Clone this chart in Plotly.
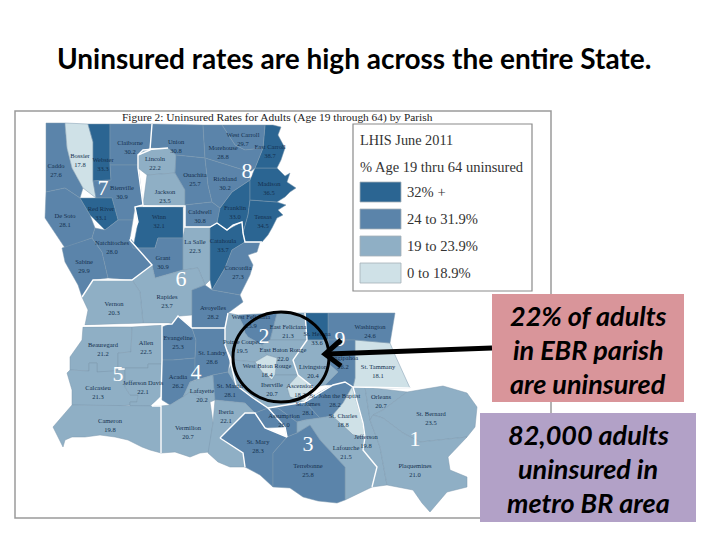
import plotly.graph_objects as go

# parish name, uninsured %
parish_names = [
    'Caddo', 'Bossier', 'Webster', 'Claiborne', 'Bienville', 'De Soto', 'Red River', 'Sabine',
    'Natchitoches', 'Winn', 'Grant', 'Lincoln', 'Jackson', 'Union', 'Ouachita', 'Caldwell',
    'La Salle', 'Catahoula', 'Concordia', 'Franklin', 'Tensas', 'Madison', 'East Carroll',
    'West Carroll', 'Morehouse', 'Richland', 'Rapides', 'Avoyelles', 'Vernon', 'Beauregard',
    'Allen', 'Calcasieu', 'Jefferson Davis', 'Cameron', 'Evangeline', 'Acadia', 'St. Landry',
    'Lafayette', 'Vermilion', 'St. Martin', 'Iberia', 'St. Mary', 'Assumption', 'St. James',
    'St. John the Baptist', 'St. Charles', 'Lafourche', 'Terrebonne', 'Jefferson', 'Orleans',
    'St. Bernard', 'Plaquemines', 'St. Tammany', 'Washington', 'Tangipahoa', 'St. Helena',
    'East Feliciana', 'West Feliciana', 'Pointe Coupee', 'East Baton Rouge', 'West Baton Rouge',
    'Iberville', 'Ascension', 'Livingston',
]
parish_rates = [
    27.6, 17.8, 33.3, 30.2, 30.9, 28.1, 33.1, 29.9,
    28.0, 32.1, 30.9, 22.2, 23.5, 30.8, 25.7, 30.8,
    22.3, 33.7, 27.3, 33.0, 34.5, 36.5, 38.7,
    29.7, 28.8, 30.2, 23.7, 28.2, 20.3, 21.2,
    22.5, 21.3, 22.1, 19.8, 25.3, 26.2, 28.6,
    20.2, 20.7, 28.1, 22.1, 28.3, 26.0, 28.1,
    28.2, 18.8, 21.5, 25.8, 19.8, 20.7,
    23.5, 21.0, 18.1, 24.6, 26.2, 33.6,
    21.3, 25.9, 19.5, 22.0, 18.4,
    20.7, 18.2, 20.4,
]
label_x = [
    56, 80, 103, 130, 122, 65, 101, 84, 112, 159, 163, 155, 165, 176, 195, 200,
    195, 223, 238, 235, 263, 269, 270, 243, 223, 225, 167, 213, 114, 103,
    146, 98, 143, 110, 178, 178, 212, 202, 188, 230, 226, 258, 284, 308,
    335, 343, 346, 308, 366, 381, 431, 415, 378, 370, 343, 317,
    288, 251, 242, 283, 267, 272, 300, 313,
]
label_y = [
    171, 161, 165, 148, 193, 221, 214, 267, 248, 222, 263, 164, 197, 147, 180, 217,
    247, 246, 273, 213, 222, 189, 152, 140, 153, 184, 302, 313, 309, 350,
    348, 393, 388, 426, 343, 382, 358, 396, 433, 391, 417, 447, 421, 409,
    401, 421, 453, 471, 442, 402, 419, 471, 372, 332, 363, 339,
    332, 322, 347, 355, 371, 390, 391, 372,
]

# hand traced outlines, in the picture's own coordinates
outlines = {
    'Caddo': [(46,123),(65,123),(67,148),(72,168),(83,188),(80,198),(65,188),(46,192)],
    'Bossier': [(65,123),(88,124),(93,142),(93,180),(96,198),(83,188),(72,168),(67,148)],
    'Webster': [(88,124),(110,124),(110,162),(111,180),(93,181),(93,142)],
    'Claiborne': [(110,124),(152,124),(150,148),(138,155),(138,165),(110,165)],
    'Bienville': [(93,181),(111,180),(110,165),(138,165),(143,205),(135,207),(133,220),(118,220),(112,198),(96,198)],
    'De Soto': [(46,192),(65,188),(80,198),(90,215),(95,228),(92,238),(65,248),(45,218)],
    'Red River': [(80,198),(112,198),(118,220),(105,230),(95,220),(90,215)],
    'Sabine': [(62,248),(92,238),(102,252),(108,278),(93,280),(82,297),(78,285),(65,262)],
    'Natchitoches': [(95,228),(105,230),(118,220),(133,220),(130,238),(152,265),(132,280),(108,278),(102,252),(92,238)],
    'Winn': [(135,207),(183,207),(183,238),(158,238),(155,248),(133,248),(138,222)],
    'Grant': [(133,248),(155,248),(158,238),(183,238),(183,270),(155,278),(152,265),(130,240)],
    'Lincoln': [(138,155),(143,150),(168,148),(176,155),(175,173),(147,175),(138,168)],
    'Jackson': [(147,175),(175,173),(185,190),(185,207),(143,205)],
    'Union': [(152,124),(203,125),(205,158),(176,155),(168,148),(150,148)],
    'Ouachita': [(176,155),(205,158),(208,185),(212,202),(185,205),(185,190),(175,173)],
    'Caldwell': [(185,205),(212,202),(220,208),(217,223),(210,227),(185,227)],
    'La Salle': [(185,227),(210,227),(210,280),(205,285),(198,268),(183,270),(183,238)],
    'Catahoula': [(210,227),(217,223),(227,230),(242,222),(245,242),(240,245),(232,250),(225,268),(212,290),(210,280)],
    'Concordia': [(245,242),(260,242),(257,252),(248,255),(253,265),(250,275),(240,295),(212,290),(225,268),(232,250)],
    'Franklin': [(220,208),(232,192),(250,180),(250,200),(248,215),(243,233),(242,222),(233,225),(227,230),(217,223)],
    'Tensas': [(250,200),(277,202),(286,205),(278,210),(283,215),(277,218),(272,228),(268,235),(262,242),(245,242),(243,233),(248,215)],
    'Madison': [(250,180),(255,168),(277,168),(285,176),(290,173),(287,182),(296,188),(290,192),(285,197),(277,202),(250,200)],
    'East Carroll': [(265,125),(273,125),(281,127),(278,135),(285,148),(281,160),(277,168),(255,168),(263,148)],
    'West Carroll': [(222,125),(265,125),(263,148),(245,150),(235,145)],
    'Morehouse': [(203,125),(222,125),(235,145),(245,150),(263,148),(255,168),(250,172),(205,158)],
    'Richland': [(205,158),(250,172),(250,180),(232,192),(220,208),(212,202),(208,185)],
    'Rapides': [(132,280),(152,265),(155,278),(183,270),(198,268),(205,285),(192,290),(192,315),(180,316),(172,323),(143,323),(140,292)],
    'Avoyelles': [(192,290),(205,285),(212,290),(240,295),(243,302),(228,313),(225,328),(192,328)],
    'Vernon': [(82,297),(93,280),(132,280),(140,292),(143,323),(85,325),(88,310)],
    'Beauregard': [(83,327),(132,327),(131,352),(118,353),(118,372),(97,372),(97,363),(89,363),(89,371),(70,370),(70,357),(82,340)],
    'Allen': [(132,327),(162,325),(162,364),(148,364),(148,368),(118,368),(118,353),(131,352)],
    'Calcasieu': [(67,373),(70,370),(89,371),(89,363),(97,363),(97,372),(125,370),(125,387),(130,395),(138,395),(137,402),(130,402),(130,405),(120,406),(72,405),(72,390)],
    'Jefferson Davis': [(125,368),(148,368),(148,364),(162,364),(161,397),(150,406),(130,406),(130,402),(137,402),(138,395),(130,395),(125,387)],
    'Cameron': [(72,405),(161,406),(161,453),(150,450),(142,447),(128,440),(115,437),(100,435),(85,437),(72,437),(65,440),(63,447),(53,427)],
    'Evangeline': [(162,327),(172,323),(178,316),(192,328),(196,340),(195,358),(173,360),(162,360)],
    'Acadia': [(162,360),(173,360),(195,358),(195,380),(190,382),(183,397),(170,405),(162,400)],
    'St. Landry': [(192,328),(225,328),(225,345),(230,360),(228,372),(213,375),(203,378),(195,380),(195,358),(196,340)],
    'Lafayette': [(190,382),(203,378),(213,375),(215,400),(210,402),(190,392),(183,397)],
    'Vermilion': [(161,406),(170,405),(183,397),(190,392),(210,402),(213,423),(209,452),(200,453),(190,457),(175,452),(161,453)],
    'St. Martin': [(213,375),(228,372),(236,385),(253,398),(268,408),(255,413),(245,403),(215,400)],
    'Iberia': [(215,400),(245,403),(255,413),(245,413),(220,438),(243,453),(245,467),(230,467),(218,462),(208,453),(213,423)],
    'St. Mary': [(220,438),(245,413),(255,413),(265,428),(287,437),(273,453),(273,487),(260,475),(245,467),(243,453)],
    'Assumption': [(255,413),(268,408),(278,408),(297,422),(297,433),(287,437),(285,427),(265,428)],
    'St. James': [(273,407),(305,402),(320,418),(305,420),(297,422),(278,408)],
    'St. John the Baptist': [(305,402),(320,392),(333,385),(345,382),(352,387),(343,403),(332,416),(320,418)],
    'St. Charles': [(343,403),(352,387),(363,423),(365,437),(353,435),(340,423),(332,416)],
    'Lafourche': [(297,433),(297,422),(305,420),(320,418),(332,416),(340,423),(353,435),(365,437),(363,450),(377,467),(372,487),(345,500),(345,467),(320,440),(310,425)],
    'Terrebonne': [(273,453),(287,437),(297,433),(310,425),(320,440),(345,467),(345,500),(337,503),(318,501),(303,497),(290,488),(273,487)],
    'Jefferson': [(353,387),(365,387),(370,420),(380,447),(387,485),(372,487),(377,467),(363,450),(365,437),(363,423)],
    'Orleans': [(365,387),(407,392),(383,410),(373,415),(370,420)],
    'St. Bernard': [(407,392),(443,386),(467,393),(477,407),(475,427),(467,437),(420,442),(403,433),(383,418),(373,415),(383,410)],
    'Plaquemines': [(370,420),(373,415),(383,418),(403,433),(420,442),(467,437),(448,457),(450,470),(467,477),(467,487),(447,492),(430,512),(422,503),(413,490),(387,485),(380,447)],
    'St. Tammany': [(355,340),(390,343),(395,355),(410,388),(383,388),(365,387),(353,387),(355,378)],
    'Washington': [(328,313),(395,313),(390,343),(355,340),(328,340)],
    'Tangipahoa': [(328,340),(355,340),(355,378),(353,387),(345,382),(333,385),(325,385),(338,372),(330,365)],
    'St. Helena': [(305,313),(328,313),(328,340),(307,340)],
    'East Feliciana': [(277,313),(305,313),(307,340),(270,340)],
    'West Feliciana': [(238,315),(277,313),(270,340),(262,345),(248,337),(245,333),(243,325)],
    'Pointe Coupee': [(228,313),(238,315),(243,325),(245,333),(248,337),(262,345),(267,355),(255,362),(233,360),(225,345),(225,328)],
    'East Baton Rouge': [(270,340),(307,340),(293,360),(298,375),(275,375),(277,358),(267,355),(262,345)],
    'West Baton Rouge': [(255,362),(267,355),(277,358),(275,375),(272,380),(262,372)],
    'Iberville': [(233,360),(255,362),(262,372),(272,380),(275,375),(298,375),(287,387),(290,397),(305,402),(273,407),(268,408),(253,398),(236,385),(228,372)],
    'Ascension': [(287,387),(298,375),(313,387),(310,397),(305,402),(290,397)],
    'Livingston': [(307,340),(328,340),(330,365),(338,372),(325,385),(313,387),(298,375),(293,360)],
}

# thick white lines between the numbered regions
region_lines = [
    [(152,124),(150,150),(138,155),(138,168),(143,205),(135,207),(138,222),(130,240),(152,265),(132,280),(93,280),(82,297)],
    [(138,155),(143,150),(168,148)],
    [(143,206),(185,206),(185,227),(210,227),(217,223),(227,230),(233,225),(242,222),(243,233),(245,242),(262,242)],
    [(83,326),(172,324),(178,316),(192,328),(225,328),(225,345),(230,360),(236,385),(253,398),(268,408),(305,402),(333,385),(345,382),(353,387)],
    [(225,328),(228,313)],
    [(162,325),(162,360),(161,397),(152,406),(161,406),(161,453)],
    [(220,438),(245,413),(255,413),(265,428),(287,437),(285,427),(268,408)],
    [(220,438),(243,453),(245,467)],
    [(353,387),(363,423),(365,437),(363,450),(377,467),(372,487)],
    [(353,387),(410,388)],
    [(305,313),(307,340),(293,360),(298,375),(313,387),(305,402)],
]

# white region numbers
region_nums = ['7', '8', '6', '5', '4', '2', '9', '3', '1']
region_x = [103, 247, 181, 118, 196, 264, 340, 308, 415]
region_y = [189, 172, 280, 375, 373, 337, 340, 445, 440]

legend_labels = ['32% +', '24 to 31.9%', '19 to 23.9%', '0 to 18.9%']
legend_colors = ['#2b6592', '#5b84aa', '#8fafc5', '#cfe1e7']
legend_top = [182, 209, 236, 263]


def rate_color(rate):
    if rate >= 32:
        return legend_colors[0]
    if rate >= 24:
        return legend_colors[1]
    if rate >= 19:
        return legend_colors[2]
    return legend_colors[3]


fig = go.Figure()

for name, rate in zip(parish_names, parish_rates):
    pts = outlines[name]
    fig.add_trace(go.Scatter(
        x=[p[0] for p in pts] + [pts[0][0]],
        y=[p[1] for p in pts] + [pts[0][1]],
        mode='lines', fill='toself', fillcolor=rate_color(rate),
        line=dict(color='#7d98ae', width=0.5), name=name, hoverinfo='name',
    ))

for pts in region_lines:
    fig.add_trace(go.Scatter(
        x=[p[0] for p in pts], y=[p[1] for p in pts], mode='lines',
        line=dict(color='white', width=1.4), hoverinfo='skip',
    ))

fig.add_trace(go.Scatter(
    x=label_x, y=label_y, mode='text', hoverinfo='skip',
    text=[f'{n}<br>{r:.1f}' for n, r in zip(parish_names, parish_rates)],
    textfont=dict(family='Liberation Serif', size=6.5, color='#14304f'),
))
fig.add_trace(go.Scatter(
    x=region_x, y=region_y, mode='text', text=region_nums, hoverinfo='skip',
    textfont=dict(family='Liberation Serif', size=22, color='white'),
))

shapes = [
    # figure frame and legend box
    dict(type='rect', x0=15, x1=551, y0=111, y1=518, line=dict(color='#9a9a9a', width=1.5), layer='below'),
    dict(type='rect', x0=353, x1=532, y0=124, y1=291, line=dict(color='#8a8a8a', width=1.2), fillcolor='white', layer='below'),
    # callout boxes
    dict(type='rect', x0=492, x1=684, y0=294, y1=402, fillcolor='#d9959a', line_width=0, layer='above'),
    dict(type='rect', x0=480, x1=696, y0=413, y1=522, fillcolor='#b2a1c7', line_width=0, layer='above'),
    # circle round EBR and the arrow into it
    dict(type='circle', x0=233, x1=329, y0=312, y1=402, line=dict(color='black', width=3), layer='above'),
    dict(type='line', x0=492, x1=328, y0=348, y1=354, line=dict(color='black', width=5), layer='above'),
    dict(type='path', path='M 341 340 L 325 354 L 341 366', line=dict(color='black', width=5), layer='above'),
]
for color, top in zip(legend_colors, legend_top):
    shapes.append(dict(type='rect', x0=360, x1=401, y0=top, y1=top + 20, fillcolor=color,
                       line=dict(color='#a5b0b8', width=0.8), layer='above'))

notes = [
    dict(x=354, y=58, text='<b>Uninsured rates are high across the entire State.</b>',
         font=dict(family='Lato', size=28, color='black')),
    dict(x=277, y=117, text='Figure 2: Uninsured Rates for Adults (Age 19 through 64) by Parish',
         font=dict(family='Liberation Serif', size=11.4, color='#222222')),
    dict(x=358, y=140, xanchor='left', text='LHIS June 2011',
         font=dict(family='Liberation Serif', size=14.3, color='#333333')),
    dict(x=358, y=167, xanchor='left', text='% Age 19 thru 64 uninsured',
         font=dict(family='Liberation Serif', size=14.5, color='#333333')),
]
for label, top in zip(legend_labels, legend_top):
    notes.append(dict(x=405, y=top + 10, xanchor='left', text=label,
                      font=dict(family='Liberation Serif', size=14.6, color='#333333')))
for line, y in zip(['22% of adults', 'in EBR parish', 'are uninsured'], [315, 349, 383]):
    notes.append(dict(x=588, y=y, text=f'<b><i>{line}</i></b>', font=dict(family='Lato', size=27, color='black')))
for line, y in zip(['82,000 adults', 'uninsured in', 'metro BR area'], [434, 468, 502]):
    notes.append(dict(x=588, y=y, text=f'<b><i>{line}</i></b>', font=dict(family='Lato', size=27, color='black')))
for n in notes:
    n.setdefault('xanchor', 'center')
    n.update(yanchor='middle', showarrow=False, xref='x', yref='y')

# the page keeps an 8px body margin, so the plot starts 8px in
fig.update_layout(
    width=712, height=532, margin=dict(l=0, r=0, t=0, b=0), showlegend=False,
    paper_bgcolor='white', plot_bgcolor='white', shapes=shapes, annotations=notes,
)
fig.update_xaxes(range=[8, 720], visible=False)
fig.update_yaxes(range=[540, 8], visible=False)

fig.write_html('out.html')
